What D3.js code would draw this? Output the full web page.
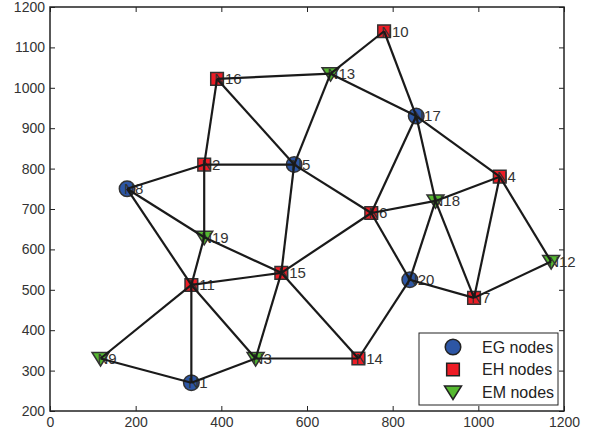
<!DOCTYPE html>
<html>
<head>
<meta charset="utf-8">
<script src="https://cdn.jsdelivr.net/npm/d3@7"></script>
<style>
  body { margin: 0; background: #fff; }
  text { font-family: "Liberation Sans", Arial, sans-serif; }
</style>
</head>
<body>
<div id="chart"></div>
<script>
// node data
var nodeNames = ["N1","N2","N3","N4","N5","N6","N7","N8","N9","N10",
                 "N11","N12","N13","N14","N15","N16","N17","N18","N19","N20"];
var nodeX = [330, 360, 480, 1050, 570, 750, 990, 180, 118, 780,
             330, 1170, 655, 720, 540, 390, 855, 900, 360, 840];
var nodeY = [270, 810, 330, 780, 810, 690, 480, 750, 330, 1140,
             512, 570, 1035, 330, 542, 1022, 930, 720, 630, 525];
var nodeType = ["EG","EH","EM","EH","EG","EH","EH","EG","EM","EH",
                "EH","EM","EM","EH","EH","EH","EG","EM","EM","EG"];

var edges = [
  ["N16","N13"], ["N16","N2"], ["N16","N5"], ["N13","N10"], ["N13","N17"], ["N13","N5"],
  ["N10","N17"], ["N17","N6"], ["N17","N18"], ["N17","N4"], ["N2","N5"], ["N2","N8"],
  ["N2","N19"], ["N19","N11"], ["N19","N15"], ["N8","N11"], ["N8","N19"], ["N5","N6"],
  ["N5","N15"], ["N6","N15"], ["N6","N18"], ["N6","N20"], ["N15","N11"], ["N15","N3"],
  ["N15","N14"], ["N11","N9"], ["N11","N1"], ["N11","N3"], ["N9","N1"], ["N1","N3"],
  ["N3","N14"], ["N14","N20"], ["N20","N18"], ["N20","N7"], ["N18","N4"], ["N18","N7"],
  ["N4","N7"], ["N4","N12"], ["N12","N7"]
];

var xTicks = [0, 200, 400, 600, 800, 1000, 1200];
var yTicks = [200, 300, 400, 500, 600, 700, 800, 900, 1000, 1100, 1200];

var legendKeys = ["EG", "EH", "EM"];
var legendLabels = ["EG nodes", "EH nodes", "EM nodes"];

var width = 592, height = 438;
var margin = {left: 50, right: 28, top: 7, bottom: 27};

var svg = d3.select("#chart")
    .append("svg")
    .attr("width", width)
    .attr("height", height);

var x = d3.scaleLinear().domain([0, 1200]).range([margin.left, width - margin.right]);
var y = d3.scaleLinear().domain([200, 1200]).range([height - margin.bottom, margin.top]);

var color = d3.scaleOrdinal()
    .domain(legendKeys)
    .range(["#2d56a5", "#ee1c25", "#55b830"]);

var symbol = {
    EG: d3.symbol().type(d3.symbolCircle).size(190),
    EH: d3.symbol().type(d3.symbolSquare).size(160),
    EM: function () {
        // downward triangle
        return "M-8.5,-6L8.5,-6L0,7.5Z";
    }
};

var nodes = nodeNames.map(function (n, i) {
    return {name: n, x: nodeX[i], y: nodeY[i], type: nodeType[i]};
});
var byName = {};
nodes.forEach(function (d) { byName[d.name] = d; });

// axes with inward ticks on all sides
var axisColor = "#222";
var fmt = d3.format("d");
var tickStyle = function (g) {
    g.select(".domain").remove();
    g.selectAll(".tick line").attr("stroke", axisColor).attr("stroke-width", 1);
    g.selectAll(".tick text")
        .style("font-size", "14px")
        .attr("fill", "#333");
};

svg.append("g")
    .attr("transform", "translate(0," + (height - margin.bottom) + ")")
    .call(d3.axisBottom(x).tickValues(xTicks).tickFormat(fmt).tickSizeInner(-5).tickSizeOuter(0).tickPadding(6))
    .call(tickStyle);

svg.append("g")
    .attr("transform", "translate(0," + margin.top + ")")
    .call(d3.axisTop(x).tickValues(xTicks).tickSizeInner(-5).tickSizeOuter(0).tickFormat(""))
    .call(tickStyle);

svg.append("g")
    .attr("transform", "translate(" + margin.left + ",0)")
    .call(d3.axisLeft(y).tickValues(yTicks).tickFormat(fmt).tickSizeInner(-5).tickSizeOuter(0).tickPadding(5))
    .call(tickStyle);

svg.append("g")
    .attr("transform", "translate(" + (width - margin.right) + ",0)")
    .call(d3.axisRight(y).tickValues(yTicks).tickSizeInner(-5).tickSizeOuter(0).tickFormat(""))
    .call(tickStyle);

svg.append("rect")
    .attr("x", margin.left)
    .attr("y", margin.top)
    .attr("width", width - margin.left - margin.right)
    .attr("height", height - margin.top - margin.bottom)
    .attr("fill", "none")
    .attr("stroke", axisColor)
    .attr("stroke-width", 1.5);

// markers
svg.selectAll("nodeMarkers")
    .data(nodes)
    .enter()
    .append("path")
    .attr("d", function (d) { return symbol[d.type](); })
    .attr("transform", function (d) { return "translate(" + x(d.x) + "," + y(d.y) + ")"; })
    .attr("fill", function (d) { return color(d.type); })
    .attr("stroke", "#333")
    .attr("stroke-width", 1.5);

// labels, drawn over the markers like the original
svg.selectAll("nodeLabels")
    .data(nodes)
    .enter()
    .append("text")
    .attr("x", function (d) { return x(d.x) - 3; })
    .attr("y", function (d) { return y(d.y); })
    .attr("dy", "0.36em")
    .style("font-size", "15px")
    .attr("fill", "#333")
    .text(function (d) { return d.name; });

// edges
svg.selectAll("edges")
    .data(edges)
    .enter()
    .append("line")
    .attr("x1", function (d) { return x(byName[d[0]].x); })
    .attr("y1", function (d) { return y(byName[d[0]].y); })
    .attr("x2", function (d) { return x(byName[d[1]].x); })
    .attr("y2", function (d) { return y(byName[d[1]].y); })
    .attr("stroke", "#1a1a1a")
    .attr("stroke-width", 2.2);

// legend
var legend = svg.append("g").attr("transform", "translate(419,333)");
legend.append("rect")
    .attr("width", 139)
    .attr("height", 72)
    .attr("fill", "#fff")
    .attr("stroke", "#222")
    .attr("stroke-width", 1);

legend.selectAll("legendMarkers")
    .data(legendKeys)
    .enter()
    .append("path")
    .attr("d", function (d) { return symbol[d](); })
    .attr("transform", function (d, i) { return "translate(34," + (14 + i * 22.5) + ")"; })
    .attr("fill", function (d) { return color(d); })
    .attr("stroke", "#222")
    .attr("stroke-width", 1.5);

legend.selectAll("legendLabels")
    .data(legendLabels)
    .enter()
    .append("text")
    .attr("x", 63)
    .attr("y", function (d, i) { return 14 + i * 22.5; })
    .attr("dy", "0.36em")
    .style("font-size", "16px")
    .attr("fill", "#222")
    .text(function (d) { return d; });
</script>
</body>
</html>
